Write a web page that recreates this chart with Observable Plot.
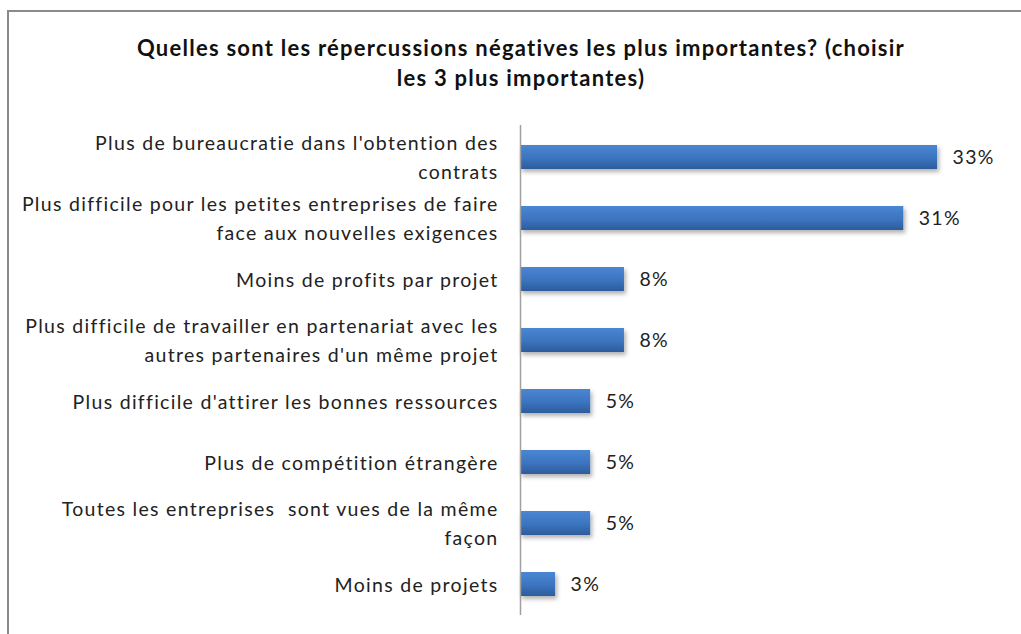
<!DOCTYPE html>
<html>
<head>
<meta charset="utf-8">
<script src="https://cdn.jsdelivr.net/npm/d3@7"></script>
<script src="https://cdn.jsdelivr.net/npm/@observablehq/plot@0.6"></script>
<style>
  html, body { margin: 0; padding: 0; background: #fff; }
  #wrap { position: relative; width: 1021px; height: 634px; overflow: hidden; background: #fff; }
  #frame { position: absolute; left: 7px; top: 10px; width: 1030px; height: 640px;
           border-left: 2px solid #8a8a8a; border-top: 2px solid #8a8a8a; }
  #title { position: absolute; left: 0; top: 33px; width: 1042px; text-align: center;
           font-family: Lato, sans-serif; font-weight: bold; font-size: 22px; line-height: 30px;
           letter-spacing: 1.25px; color: #111; }
  #chart { position: absolute; left: 0; top: 100px; }
  #chart svg text { letter-spacing: 1.3px; }
</style>
</head>
<body>
<div id="wrap">
  <div id="frame"></div>
  <div id="title">Quelles sont les répercussions négatives les plus importantes? (choisir<br>les 3 plus importantes)</div>
  <div id="chart"></div>
</div>
<script>
const categories = [
  "Plus de bureaucratie dans l'obtention des\ncontrats",
  "Plus difficile pour les petites entreprises de faire\nface aux nouvelles exigences",
  "Moins de profits par projet",
  "Plus difficile de travailler en partenariat avec les\nautres partenaires d'un même projet",
  "Plus difficile d'attirer les bonnes ressources",
  "Plus de compétition étrangère",
  "Toutes les entreprises  sont vues de la même\nfaçon",
  "Moins de projets"
];
const values = [33.3, 30.6, 8.3, 8.3, 5.6, 5.6, 5.6, 2.8];
const valueLabels = ["33%", "31%", "8%", "8%", "5%", "5%", "5%", "3%"];

const data = categories.map((c, i) => ({category: c, value: values[i], label: valueLabels[i]}));

const chart = Plot.plot({
  width: 1021,
  height: 534,
  marginLeft: 520,
  marginRight: 0,
  marginTop: 25,
  marginBottom: 19,
  style: {fontFamily: "Lato, sans-serif", background: "transparent"},
  x: {domain: [0, 40], axis: null},
  y: {domain: categories, axis: null, paddingInner: 0.61, paddingOuter: 0.29},
  marks: [
    Plot.barX(data, {x: "value", y: "category", fill: "url(#barGrad)"}),
    Plot.ruleX([0], {stroke: "#a0a0a0", strokeWidth: 1.5}),
    Plot.text(data, {x: 0, y: "category", text: "category", dx: -22, dy: -2, textAnchor: "end",
      lineAnchor: "middle", lineHeight: 1.45, fontSize: 19.5, fill: "#222"}),
    Plot.text(data, {x: "value", y: "category", text: "label", dx: 15, textAnchor: "start",
      fontSize: 19.5, fill: "#222"})
  ]
});

const svg = d3.select(chart);
const defs = svg.insert("defs", ":first-child");
const g = defs.append("linearGradient").attr("id", "barGrad").attr("x1", 0).attr("y1", 0).attr("x2", 0).attr("y2", 1);
g.append("stop").attr("offset", "0%").attr("stop-color", "#4a86d2");
g.append("stop").attr("offset", "55%").attr("stop-color", "#3c74bf");
g.append("stop").attr("offset", "100%").attr("stop-color", "#2d5c9b");
const f = defs.append("filter").attr("id", "barShadow").attr("x", "-10%").attr("y", "-30%").attr("width", "130%").attr("height", "180%");
f.append("feDropShadow").attr("dx", 2).attr("dy", 3).attr("stdDeviation", 2).attr("flood-color", "#000").attr("flood-opacity", 0.3);
svg.select('g[aria-label="bar"]').attr("filter", "url(#barShadow)");

document.getElementById("chart").appendChild(chart);
</script>
</body>
</html>
